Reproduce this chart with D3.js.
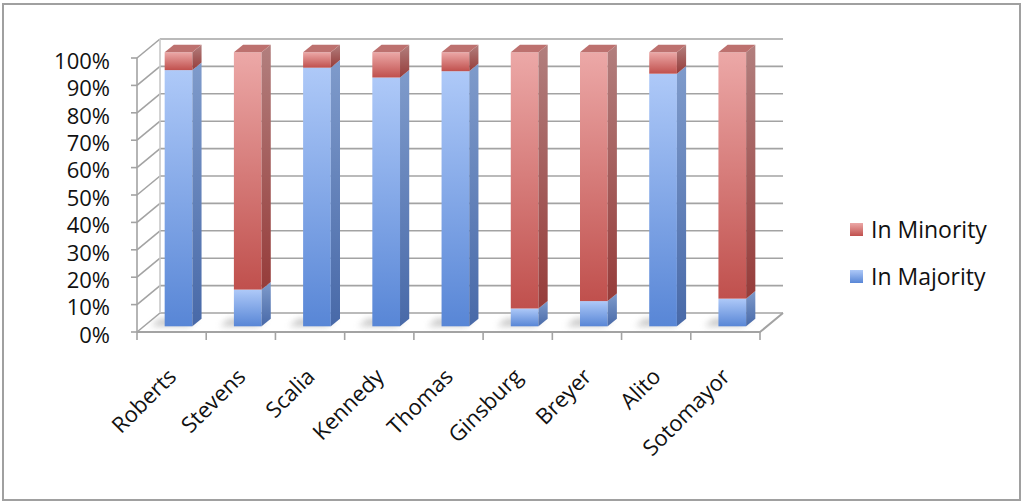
<!DOCTYPE html>
<html>
<head>
<meta charset="utf-8">
<script src="https://cdn.jsdelivr.net/npm/d3@7"></script>
<style>
body{margin:0;background:#fff}
svg{display:block;font-family:"Open Sans",sans-serif}
</style>
</head>
<body>
<svg id="chart" width="1024" height="503"></svg>
<script>
const justices = ["Roberts","Stevens","Scalia","Kennedy","Thomas","Ginsburg","Breyer","Alito","Sotomayor"];
const inMajority = [0.935, 0.134, 0.944, 0.908, 0.931, 0.065, 0.092, 0.922, 0.101];
const inMinority = [0.065, 0.866, 0.056, 0.092, 0.069, 0.935, 0.908, 0.078, 0.899];
const seriesNames = ["In Majority","In Minority"];
const legendOrder = ["In Minority","In Majority"];
const yTicks = [0,0.1,0.2,0.3,0.4,0.5,0.6,0.7,0.8,0.9,1];

var plotLeft = 137, plotRight = 760, plotBottom = 332, plotTop = 58;
var depth = {x: 23, y: -19};
var zFront = .3, zBack = .7;
var gridColor = "#a3a3a3";

var svg = d3.select("#chart");

// colours per series: front gradient, side gradient, top cap
var palette = {
	"In Majority": {front: ["#aec9f8","#5886d6"], side: ["#7f9bcb","#4869a8"], top: "#7d9ad0"},
	"In Minority": {front: ["#eca8a7","#c0504d"], side: ["#b27f7e","#963c3a"], top: "#bd716f"}
};

var defs = svg.append("defs");
function addGradient(id, stops){
	var g = defs.append("linearGradient").attr("id", id)
		.attr("x1",0).attr("y1",0).attr("x2",0).attr("y2",1);
	g.append("stop").attr("offset","0%").attr("stop-color", stops[0]);
	g.append("stop").attr("offset","100%").attr("stop-color", stops[1]);
}
seriesNames.forEach(function(s, i){
	addGradient("front" + i, palette[s].front);
	addGradient("side" + i, palette[s].side);
});
defs.append("filter").attr("id","blur")
	.attr("x","-50%").attr("y","-50%").attr("width","200%").attr("height","200%")
	.append("feGaussianBlur").attr("stdDeviation", 3);

var x = d3.scaleBand().domain(justices).range([plotLeft, plotRight]).paddingInner(.6).paddingOuter(.3);
var xEdge = d3.scaleLinear().domain([0, justices.length]).range([plotLeft, plotRight]);
var y = d3.scaleLinear().domain([0, 1]).range([plotBottom, plotTop]);

var rows = justices.map(function(name, i){
	return {name: name, "In Majority": inMajority[i], "In Minority": inMinority[i]};
});
var stacked = d3.stack().keys(seriesNames)(rows);

// outer frame
svg.append("rect")
	.attr("x", 3).attr("y", 4).attr("width", 1017).attr("height", 496)
	.attr("fill", "none").attr("stroke", "#a0a0a0").attr("stroke-width", 2);

// walls
var walls = svg.append("g").attr("stroke", gridColor).attr("stroke-width", 1.6).attr("fill", "none");
walls.selectAll(".side").data(yTicks).enter().append("line")
	.attr("x1", plotLeft).attr("y1", function(d){ return y(d) })
	.attr("x2", plotLeft + depth.x).attr("y2", function(d){ return y(d) + depth.y });
walls.selectAll(".back").data(yTicks).enter().append("line")
	.attr("x1", plotLeft + depth.x).attr("y1", function(d){ return y(d) + depth.y })
	.attr("x2", plotRight + depth.x).attr("y2", function(d){ return y(d) + depth.y });
walls.append("line")
	.attr("x1", plotLeft + depth.x).attr("y1", y(0) + depth.y)
	.attr("x2", plotLeft + depth.x).attr("y2", y(1) + depth.y)
	.attr("stroke", "#c8c8c8");
walls.append("line")
	.attr("x1", plotLeft).attr("y1", y(0)).attr("x2", plotLeft).attr("y2", y(1));
// floor
walls.append("polyline")
	.attr("points", [[plotLeft, plotBottom],[plotRight, plotBottom],[plotRight + depth.x, plotBottom + depth.y]].join(" "))
	.attr("stroke-width", 2);

// ticks
var ticks = svg.append("g").attr("stroke", gridColor).attr("stroke-width", 1.6);
ticks.selectAll(".yt").data(yTicks).enter().append("line")
	.attr("x1", plotLeft - 6).attr("x2", plotLeft)
	.attr("y1", function(d){ return y(d) }).attr("y2", function(d){ return y(d) });
ticks.selectAll(".xt").data(d3.range(justices.length + 1)).enter().append("line")
	.attr("x1", function(d){ return xEdge(d) }).attr("x2", function(d){ return xEdge(d) })
	.attr("y1", plotBottom).attr("y2", plotBottom + 8);

svg.append("g").selectAll("text").data(yTicks).enter().append("text")
	.attr("x", 110).attr("y", function(d){ return y(d) + 3 })
	.attr("dy", "0.35em").attr("text-anchor", "end")
	.attr("font-size", 22).attr("fill", "#111")
	.text(d3.format(".0%"));

svg.append("g").selectAll("text").data(justices).enter().append("text")
	.attr("text-anchor", "end").attr("font-size", 22).attr("fill", "#111")
	.attr("transform", function(d){
		return "translate(" + (x(d) + x.bandwidth()/2 + 6) + "," + 378 + ") rotate(-45)";
	})
	.text(function(d){ return d });

// floor shadows
var bw = x.bandwidth();
svg.append("g").attr("filter", "url(#blur)").attr("opacity", .55)
	.selectAll("polygon").data(justices).enter().append("polygon")
	.attr("fill", "#9a9a9a")
	.attr("points", function(d){
		var x0 = x(d) - 14, x1 = x(d) + bw - 4;
		return [
			[x0 + zFront*depth.x, plotBottom + zFront*depth.y],
			[x1 + zFront*depth.x, plotBottom + zFront*depth.y],
			[x1 + zBack*depth.x, plotBottom + zBack*depth.y],
			[x0 + zBack*depth.x, plotBottom + zBack*depth.y]
		].join(" ");
	});

// bars
var ddx = (zBack - zFront)*depth.x, ddy = (zBack - zFront)*depth.y;
var layers = svg.append("g").selectAll("g").data(stacked).enter().append("g");

layers.each(function(layer, li){
	var g = d3.select(this);
	var last = li == stacked.length - 1;
	layer.forEach(function(seg){
		var name = seg.data.name;
		var xl = x(name) + zFront*depth.x;
		var xr = xl + bw;
		var yt = y(seg[1]) + zFront*depth.y;
		var yb = y(seg[0]) + zFront*depth.y;
		g.append("rect")
			.attr("x", xl).attr("y", yt).attr("width", bw).attr("height", yb - yt)
			.attr("fill", "url(#front" + li + ")");
		g.append("polygon")
			.attr("points", [[xr, yt],[xr + ddx, yt + ddy],[xr + ddx, yb + ddy],[xr, yb]].join(" "))
			.attr("fill", "url(#side" + li + ")");
		if(last){
			g.append("polygon")
				.attr("points", [[xl, yt],[xr, yt],[xr + ddx, yt + ddy],[xl + ddx, yt + ddy]].join(" "))
				.attr("fill", palette[layer.key].top);
		}
	});
});

// legend
var legend = svg.append("g").selectAll("g").data(legendOrder).enter().append("g")
	.attr("transform", function(d, i){ return "translate(850," + (230 + i*47) + ")" });
legend.append("rect")
	.attr("x", 0).attr("y", -7).attr("width", 13).attr("height", 13)
	.attr("fill", function(d){ return "url(#front" + seriesNames.indexOf(d) + ")" });
legend.append("text")
	.attr("x", 21).attr("dy", "0.35em").attr("font-size", 23).attr("fill", "#111")
	.text(function(d){ return d });
</script>
</body>
</html>
